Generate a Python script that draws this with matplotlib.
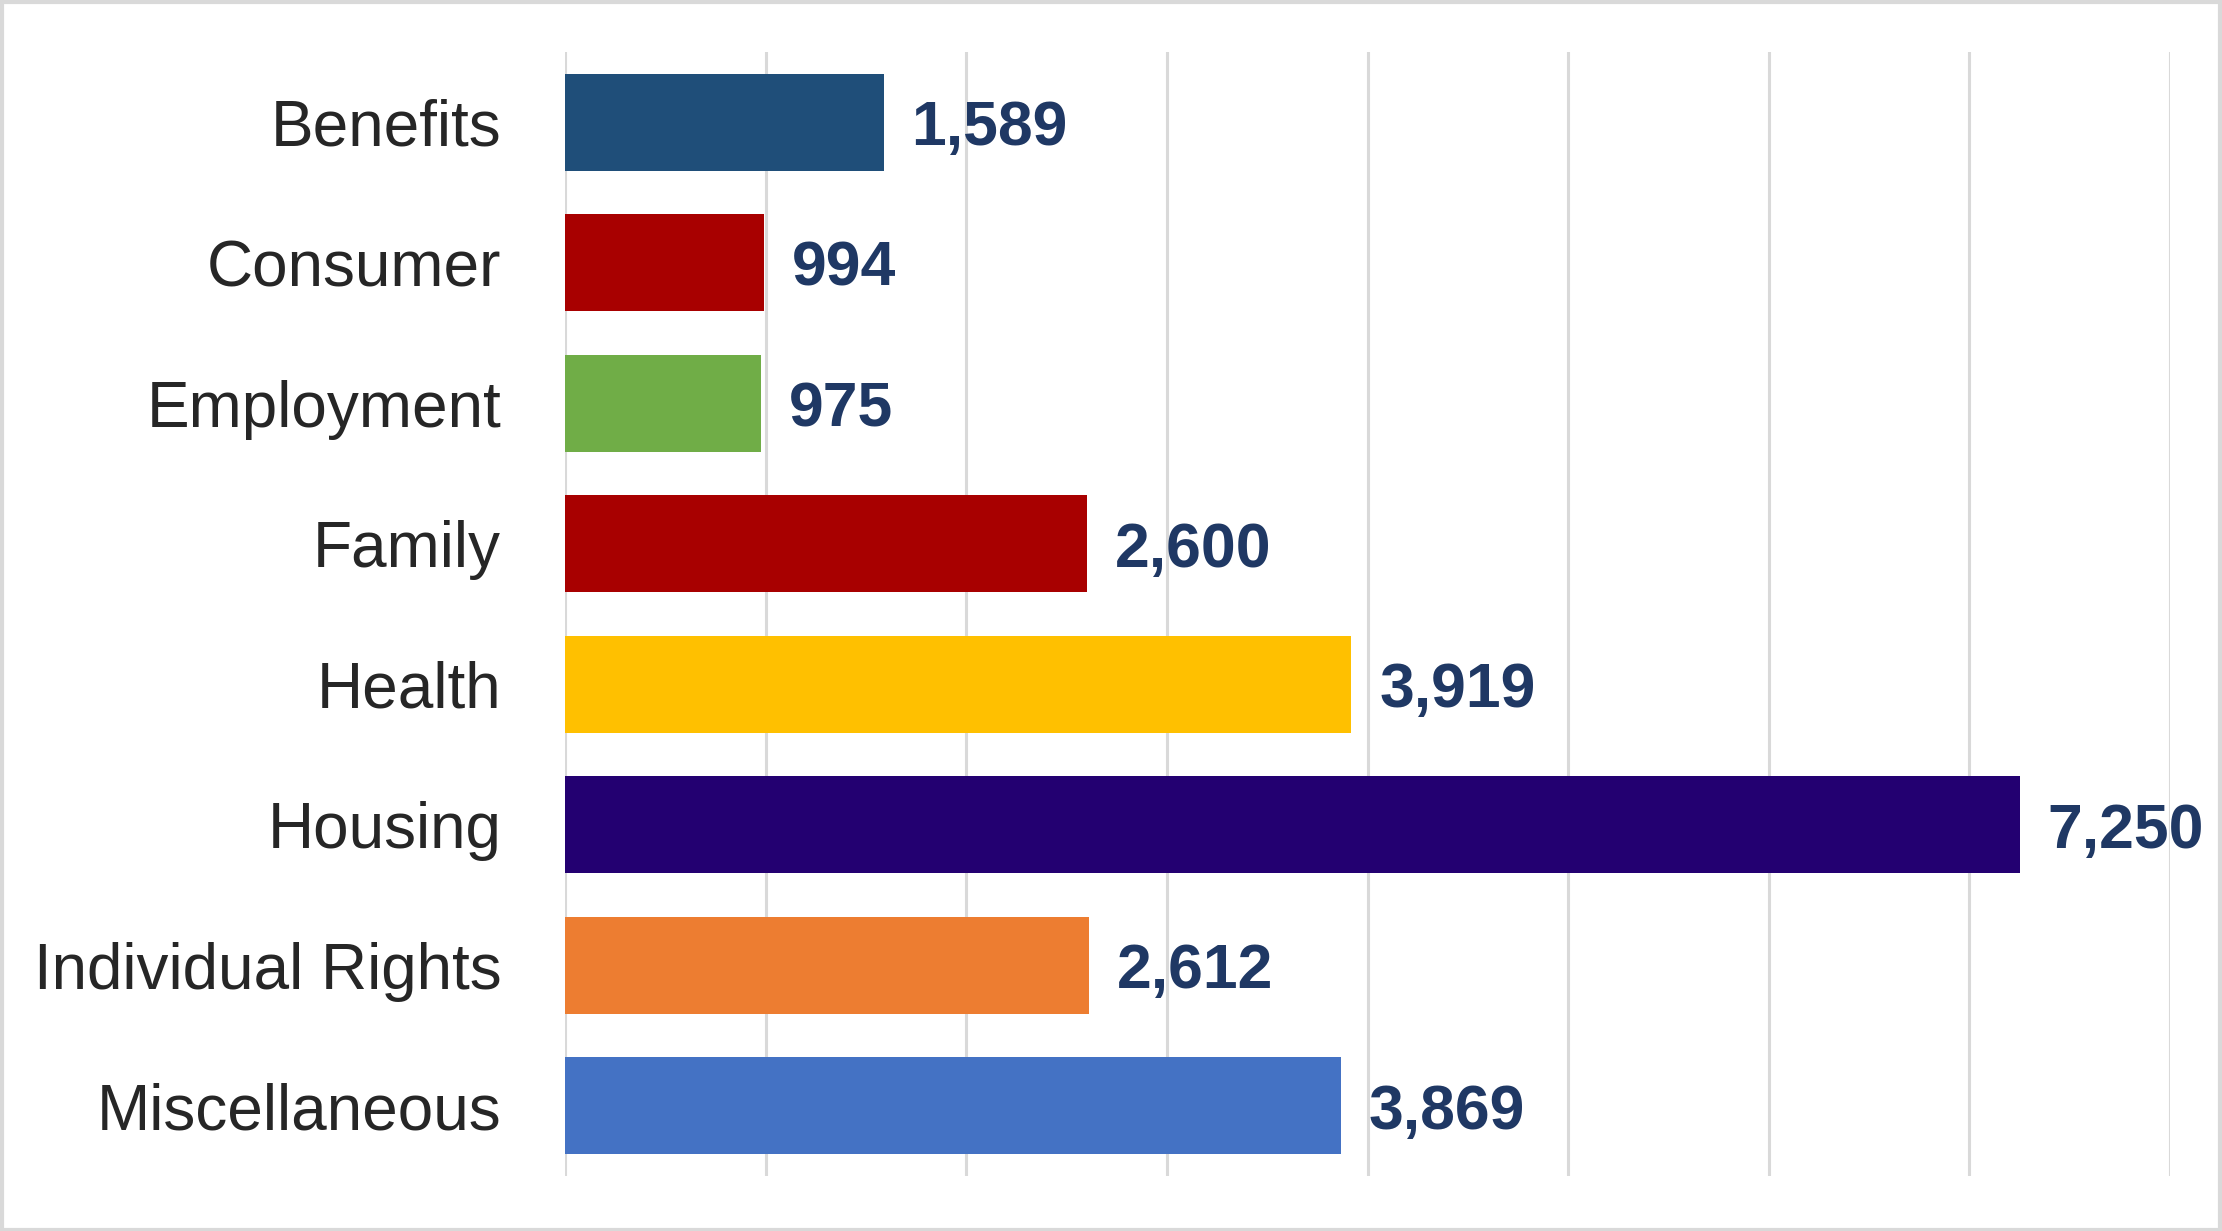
import matplotlib.pyplot as plt
from matplotlib.patches import Rectangle

plt.rcParams['font.family'] = ['Liberation Sans', 'DejaVu Sans']

categories = ["Benefits", "Consumer", "Employment", "Family", "Health",
              "Housing", "Individual Rights", "Miscellaneous"]
values = [1589, 994, 975, 2600, 3919, 7250, 2612, 3869]
colors = ["#1F4E79", "#A80000", "#70AD47", "#A80000", "#FFC000",
          "#230071", "#ED7D31", "#4472C4"]

fig = plt.figure(figsize=(22.22, 12.31), dpi=100)
ax = fig.add_axes([0.2543, 0.0447, 0.7223, 0.9131])

ypos = range(len(categories))
ax.barh(ypos, values, height=0.69, color=colors, zorder=3)

# value labels, digits centred on the bar
for y, v in zip(ypos, values):
    ax.annotate(f"{v:,}", xy=(v, y), xytext=(20, -16.5), textcoords="offset points",
                ha="left", va="baseline", fontsize=45, fontweight="bold",
                color="#1F3864", zorder=4)

ax.set_xlim(0, 8000)
ax.set_ylim(7.5, -0.5)
ax.set_xticks(range(0, 8001, 1000))
ax.set_xticklabels([])
ax.set_yticks(list(ypos))
ax.set_yticklabels(categories, fontsize=46, color="#262626")
ax.tick_params(axis="both", length=0)
ax.tick_params(axis="y", pad=46)
ax.grid(axis="x", color="#D9D9D9", linewidth=2.2, zorder=0)
for s in ax.spines.values():
    s.set_visible(False)

fig.patches.append(Rectangle((0.001, 0.001), 0.998, 0.997, transform=fig.transFigure,
                             fill=False, edgecolor="#D9D9D9", linewidth=3))

fig.savefig("out.png", dpi=100)
